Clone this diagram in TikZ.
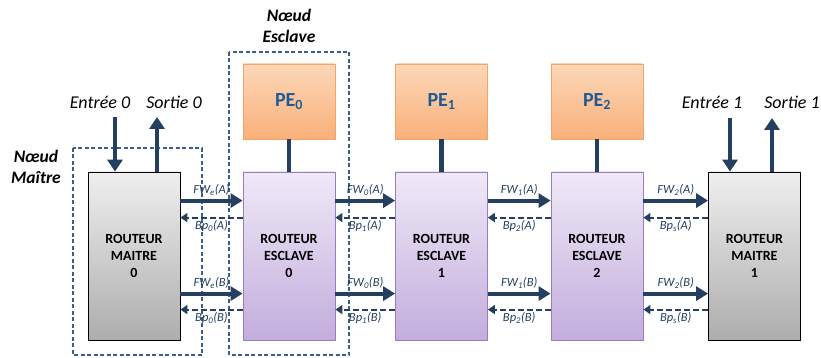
\documentclass[tikz,border=0pt]{standalone}
\usepackage{fontspec}
\setmainfont{Carlito}
\usetikzlibrary{arrows.meta, positioning, calc}
\definecolor{linkNavy}{HTML}{243F60}
\definecolor{frameBlue}{HTML}{39608C}
\definecolor{peTop}{HTML}{FCD7B8}
\definecolor{peBot}{HTML}{F9B07A}
\definecolor{peLine}{HTML}{F5A468}
\definecolor{peText}{HTML}{1F5A96}
\definecolor{slvTop}{HTML}{EFE9F7}
\definecolor{slvBot}{HTML}{C3ADDD}
\definecolor{slvLine}{HTML}{9A7CC0}
\definecolor{mstTop}{HTML}{EFEFEF}
\definecolor{mstBot}{HTML}{ADADAD}

\tikzset{
  router/.style={minimum width=92pt, minimum height=168pt, align=center,
    font=\fontsize{14}{17}\selectfont\bfseries, inner sep=0pt},
  master/.style={router, draw=black, line width=0.8pt,
    top color=mstTop, bottom color=mstBot},
  slave/.style={router, draw=slvLine, line width=0.8pt,
    top color=slvTop, bottom color=slvBot},
  pebox/.style={minimum width=92pt, minimum height=75pt, draw=peLine,
    line width=0.8pt, top color=peTop, bottom color=peBot,
    font=\fontsize{20}{24}\selectfont\bfseries\color{peText}},
  fwlink/.style={-{Triangle[length=12pt,width=14pt]}, linkNavy, line width=4pt},
  bplink/.style={-{Triangle[length=7pt,width=9pt]}, linkNavy, line width=2.2pt,
    dash pattern=on 6pt off 3pt},
  iolink/.style={-{Triangle[length=12pt,width=15pt]}, linkNavy, line width=4pt},
  lbl/.style={font=\fontsize{12.5}{15}\selectfont\itshape, inner sep=1.5pt},
  iolbl/.style={font=\fontsize{18}{21}\selectfont\itshape},
  nodelbl/.style={font=\fontsize{17.5}{21}\selectfont\bfseries\itshape, align=center},
  nodeframe/.style={draw=frameBlue, line width=1.3pt, dash pattern=on 4pt off 2.5pt}
}

\begin{document}
\begin{tikzpicture}[x=1pt, y=-1pt]
        \useasboundingbox (0,0) rectangle (821,358);

        % Routers
        \node[master] (m0) at (134,256) {ROUTEUR\\MAITRE\\0};
        \node[slave] (s0) at (289,256) {ROUTEUR\\ESCLAVE\\0};
        \node[slave] (s1) at (441.5,256) {ROUTEUR\\ESCLAVE\\1};
        \node[slave] (s2) at (597,256) {ROUTEUR\\ESCLAVE\\2};
        \node[master] (m1) at (754.5,256) {ROUTEUR\\MAITRE\\1};

        % Processing elements
        \node[pebox] (pe0) at (289,101.5) {PE\textsubscript{0}};
        \node[pebox] (pe1) at (441.5,101.5) {PE\textsubscript{1}};
        \node[pebox] (pe2) at (597,101.5) {PE\textsubscript{2}};
        \draw[linkNavy, line width=4.5pt] (pe0) -- (s0);
        \draw[linkNavy, line width=4.5pt] (pe1) -- (s1);
        \draw[linkNavy, line width=4.5pt] (pe2) -- (s2);

        % Node frames
        \draw[nodeframe] (73,148) rectangle (202,355);
        \draw[nodeframe] (229,52) rectangle (349,355);
        \node[nodelbl] (nm) at (36,167) {Nœud\\Maître};
        \node[nodelbl] (ns) at (289,26) {Nœud\\Esclave};

        % Links between routers
        \foreach \a/\b/\f/\p in {m0/s0/e/0, s0/s1/0/1, s1/s2/1/2, s2/m1/2/s} {
          \foreach \ch/\dy/\dz in {A/29/46, B/122/138} {
            \draw[fwlink] ([yshift=-\dy pt]\a.north east) -- ([yshift=-\dy pt]\b.north west)
              node[midway, above=1.5pt, lbl] {FW\textsubscript{\f}(\ch)};
            \draw[bplink] ([yshift=-\dz pt]\b.north west) -- ([yshift=-\dz pt]\a.north east)
              node[midway, below=0.5pt, lbl] {Bp\textsubscript{\p}(\ch)};
          }
        }

        % Inputs and outputs
        \coordinate (in0) at (115,117);
        \coordinate (out0) at (157,117);
        \coordinate (in1) at (730,118);
        \coordinate (out1) at (772,118);
        \draw[iolink] (in0) -- (in0 |- m0.north);
        \draw[iolink] (out0 |- m0.north) -- (out0);
        \draw[iolink] (in1) -- (in1 |- m1.north);
        \draw[iolink] (out1 |- m1.north) -- (out1);
        \node[iolbl] (lin0) at (100,102) {Entrée 0};
        \node[iolbl] (lout0) at (174,102) {Sortie 0};
        \node[iolbl] (lin1) at (712,102) {Entrée 1};
        \node[iolbl] (lout1) at (792,102) {Sortie 1};
      \end{tikzpicture}
\end{document}
